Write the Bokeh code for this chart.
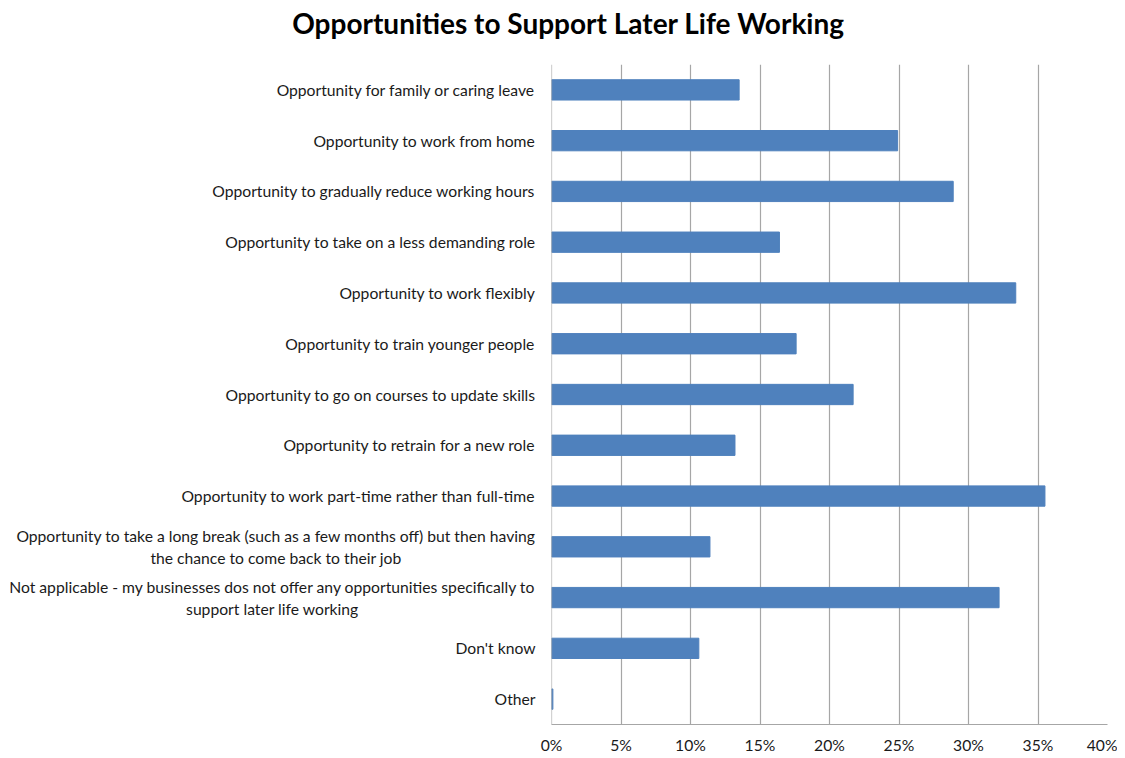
from bokeh.plotting import figure
from bokeh.models import FactorRange, FixedTicker, Span, Range1d
from bokeh.layouts import column, row
from bokeh.core.properties import value
from bokeh.embed import file_html
from bokeh.resources import INLINE

title_text = "Opportunities to Support Later Life Working"
categories = [
    "Opportunity for family or caring leave",
    "Opportunity to work from home",
    "Opportunity to gradually reduce working hours",
    "Opportunity to take on a less demanding role",
    "Opportunity to work flexibly",
    "Opportunity to train younger people",
    "Opportunity to go on courses to update skills",
    "Opportunity to retrain for a new role",
    "Opportunity to work part-time rather than full-time",
    "Opportunity to take a long break (such as a few months off) but then having\nthe chance to come back to their job",
    "Not applicable - my businesses dos not offer any opportunities specifically to\nsupport later life working",
    "Don't know",
    "Other",
]
values = [13.5, 24.9, 28.9, 16.4, 33.4, 17.6, 21.7, 13.2, 35.5, 11.4, 32.2, 10.6, 0.1]
x_ticks = [0, 5, 10, 15, 20, 25, 30, 35, 40]

FONT = "Lato"
LABEL_SIZE = "15.7px"
TEXT_COLOR = "#1a1a1a"
GRID = "#a6a6a6"

y_range = FactorRange(*list(reversed(categories)), range_padding=0)

# ---- title strip ----
TH = 44
tf = figure(width=1117, height=TH, x_range=Range1d(0, 1117), y_range=Range1d(0, TH),
            x_axis_type=None, y_axis_type=None, output_backend="svg", toolbar_location=None,
            min_border=0)
tf.outline_line_color = None
tf.text(x=[568], y=[TH - 22], text=[title_text], text_align="center", text_baseline="middle",
        text_font=value(FONT), text_font_size=value("28px"), text_font_style="bold",
        text_color="#000000")

# ---- category labels ----
LW = 540
FH = 712
TOP = 64 - TH
BOTTOM = FH - TOP - 662
lf = figure(width=LW, height=FH, x_range=Range1d(0, LW), y_range=y_range,
            x_axis_type=None, y_axis_type=None, output_backend="svg", toolbar_location=None,
            min_border_left=0, min_border_right=0, min_border_top=TOP, min_border_bottom=BOTTOM)
lf.outline_line_color = None
right_edge = 535
centres = {categories[9]: 275.5, categories[10]: 272.0}
sx, sy, st = [], [], []
mx, my, mt, mo = [], [], [], []
for c in categories:
    if "\n" in c:
        a, b = c.split("\n")
        mx += [centres[c], centres[c]]
        my += [c, c]
        mt += [a, b]
        mo += [-11, 11]
    else:
        sx.append(right_edge)
        sy.append(c)
        st.append(c)
lf.text(x=sx, y=sy, text=st, text_align="right", text_baseline="middle",
        text_font=value(FONT), text_font_size=value(LABEL_SIZE), text_color=TEXT_COLOR)
lf.text(x=mx, y=my, text=mt, y_offset=mo, text_align="center", text_baseline="middle",
        text_font=value(FONT), text_font_size=value(LABEL_SIZE), text_color=TEXT_COLOR)

# ---- bars ----
p = figure(width=1117 - LW, height=FH, y_range=y_range, x_range=(0, 40),
           y_axis_location=None, output_backend="svg", toolbar_location=None,
           min_border_left=11, min_border_right=10, min_border_top=TOP, min_border_bottom=BOTTOM)
p.hbar(y=categories, right=values, left=0, height=0.4, fill_color="#4F81BD", line_color="#4F81BD")
p.outline_line_color = None
p.xgrid.grid_line_color = GRID
p.xgrid.grid_line_width = 1.2
p.ygrid.grid_line_color = None
p.add_layout(Span(location=0, dimension="height", line_color=GRID, line_width=1.2))
p.xaxis.ticker = FixedTicker(ticks=x_ticks)
p.xaxis.major_label_overrides = {v: f"{v}%" for v in x_ticks}
p.xaxis.axis_line_color = GRID
p.xaxis.axis_line_width = 1.2
p.xaxis.major_tick_line_color = None
p.xaxis.major_tick_out = 0
p.xaxis.major_tick_in = 0
p.xaxis.minor_tick_line_color = None
p.xaxis.minor_tick_out = 0
p.xaxis.major_label_text_font = FONT
p.xaxis.major_label_text_font_size = LABEL_SIZE
p.xaxis.major_label_text_color = TEXT_COLOR
p.xaxis.major_label_standoff = 11

layout = column(tf, row(lf, p, spacing=0), spacing=0)
open("out.html", "w").write(file_html(layout, INLINE))
